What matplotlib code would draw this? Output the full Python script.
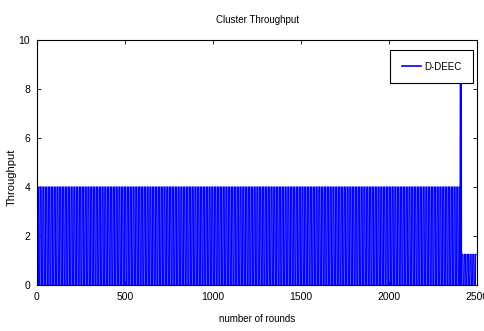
import numpy as np
import matplotlib
matplotlib.use("Agg")
import matplotlib.pyplot as plt

# Data: throughput toggles between 0 and a level
segment_starts = [1, 2405, 2412]
segment_ends = [2404, 2411, 2495]
segment_levels = [4.0, 9.0, 1.25]
hold_rounds = [8, 3, 8]   # rounds the value is held before toggling (stripe density)
series_name = "D-DEEC"
x_ticks = [0, 500, 1000, 1500, 2000, 2500]
y_ticks = [0, 2, 4, 6, 8, 10]

rounds = []
values = []
for s, e, lvl, h in zip(segment_starts, segment_ends, segment_levels, hold_rounds):
    for r in range(s, e + 1):
        rounds.append(r)
        values.append(lvl if ((r - s) // h) % 2 == 0 else 0.0)

font = "Liberation Sans"

fig = plt.figure(figsize=(4.85, 3.31), dpi=100)
ax = fig.add_axes([37/485, 46/331, 440/485, 245/331])
ax.plot(rounds, values, color="#0000ff", lw=0.9, label=series_name)
ax.set_xlim(0, 2500)
ax.set_ylim(0, 10)
ax.set_xticks(x_ticks)
ax.set_yticks(y_ticks)
ax.tick_params(direction="in", top=True, right=True, length=3, width=0.6,
               labelsize=7.5, pad=5)
for lab in ax.get_xticklabels() + ax.get_yticklabels():
    lab.set_fontfamily(font)
for sp in ax.spines.values():
    sp.set_linewidth(0.8)
ax.set_title("Cluster Throughput", fontsize=7, fontfamily=font, pad=12)
ax.set_xlabel("number of rounds", fontsize=7, fontfamily=font, labelpad=9)
ax.set_ylabel("Throughput", fontsize=8, fontfamily=font)
ax.yaxis.set_label_coords(-0.045, 0.44)
leg = ax.legend(loc="upper right", prop={"family": font, "size": 7},
                frameon=True, fancybox=False, edgecolor="black", framealpha=1,
                handlelength=2.0, handletextpad=0.3, borderpad=1.2,
                borderaxespad=0.0, bbox_to_anchor=(0.991, 0.959))
leg.get_frame().set_linewidth(0.8)
for h in leg.get_lines():
    h.set_linewidth(1.2)
fig.savefig("out.png", dpi=100)
